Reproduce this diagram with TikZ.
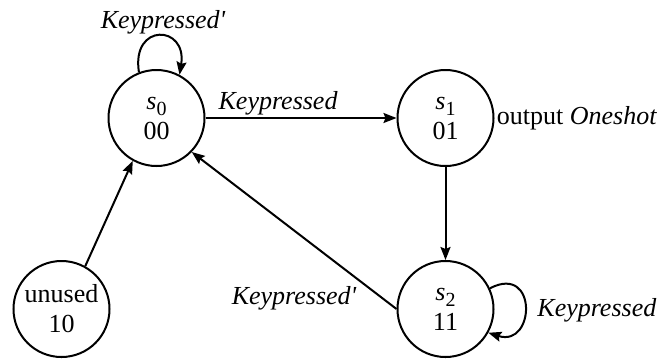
\documentclass[tikz,border=0pt]{standalone}
\usepackage{fontspec}
\setmainfont{Liberation Serif}
\usetikzlibrary{arrows.meta}
\newcommand{\stsub}[1]{\raisebox{-3pt}{\fontsize{10}{10}\selectfont #1}}
\begin{document}
\begin{tikzpicture}[x=0.5pt,y=-0.5pt,
  state/.style={circle,draw,line width=1pt,minimum size=48pt,inner sep=0pt,align=center,
    font=\fontsize{13}{15}\selectfont},
  lbl/.style={font=\fontsize{13}{15}\selectfont\itshape,inner sep=1pt},
  trans/.style={line width=1pt,-{Stealth[length=6.5pt,width=5pt,inset=1pt]}}]
\useasboundingbox (0,0) rectangle (662,360);
\node[state] (s0) at (156.5,118) {{\itshape s}\stsub{0}\\00};
\node[state] (s1) at (445.5,118) {{\itshape s}\stsub{1}\\01};
\node[state] (s2) at (445.5,309) {{\itshape s}\stsub{2}\\11};
\node[state] (un) at (61.5,309) {unused\\10};

\draw[trans] (s0.111) .. controls +(-8,-50) and +(8,-50) .. (s0.62);
\node[lbl] (l0) at (163,22) {Keypressed\textquotesingle};

\draw[trans] (s0.east) -- node[lbl,pos=0.38,above] (l1) {Keypressed} (s1.west);
\node[inner sep=1pt,anchor=west,font=\fontsize{13}{15}\selectfont] (out) at (s1.east) {output \textit{Oneshot}};

\draw[trans] (s1.south) -- (s2.north);
\draw[trans] (s2.25) .. controls +(48,-25) and +(47,15) .. (s2.-29);
\node[lbl,anchor=west] (l2) at (535,310) {Keypressed};

\draw[trans] (s2.west) -- (s0.-44);
\node[lbl] (l3) at (294,298) {Keypressed\textquotesingle};

\draw[trans] (un.61) -- (s0.241);
\end{tikzpicture}
\end{document}
